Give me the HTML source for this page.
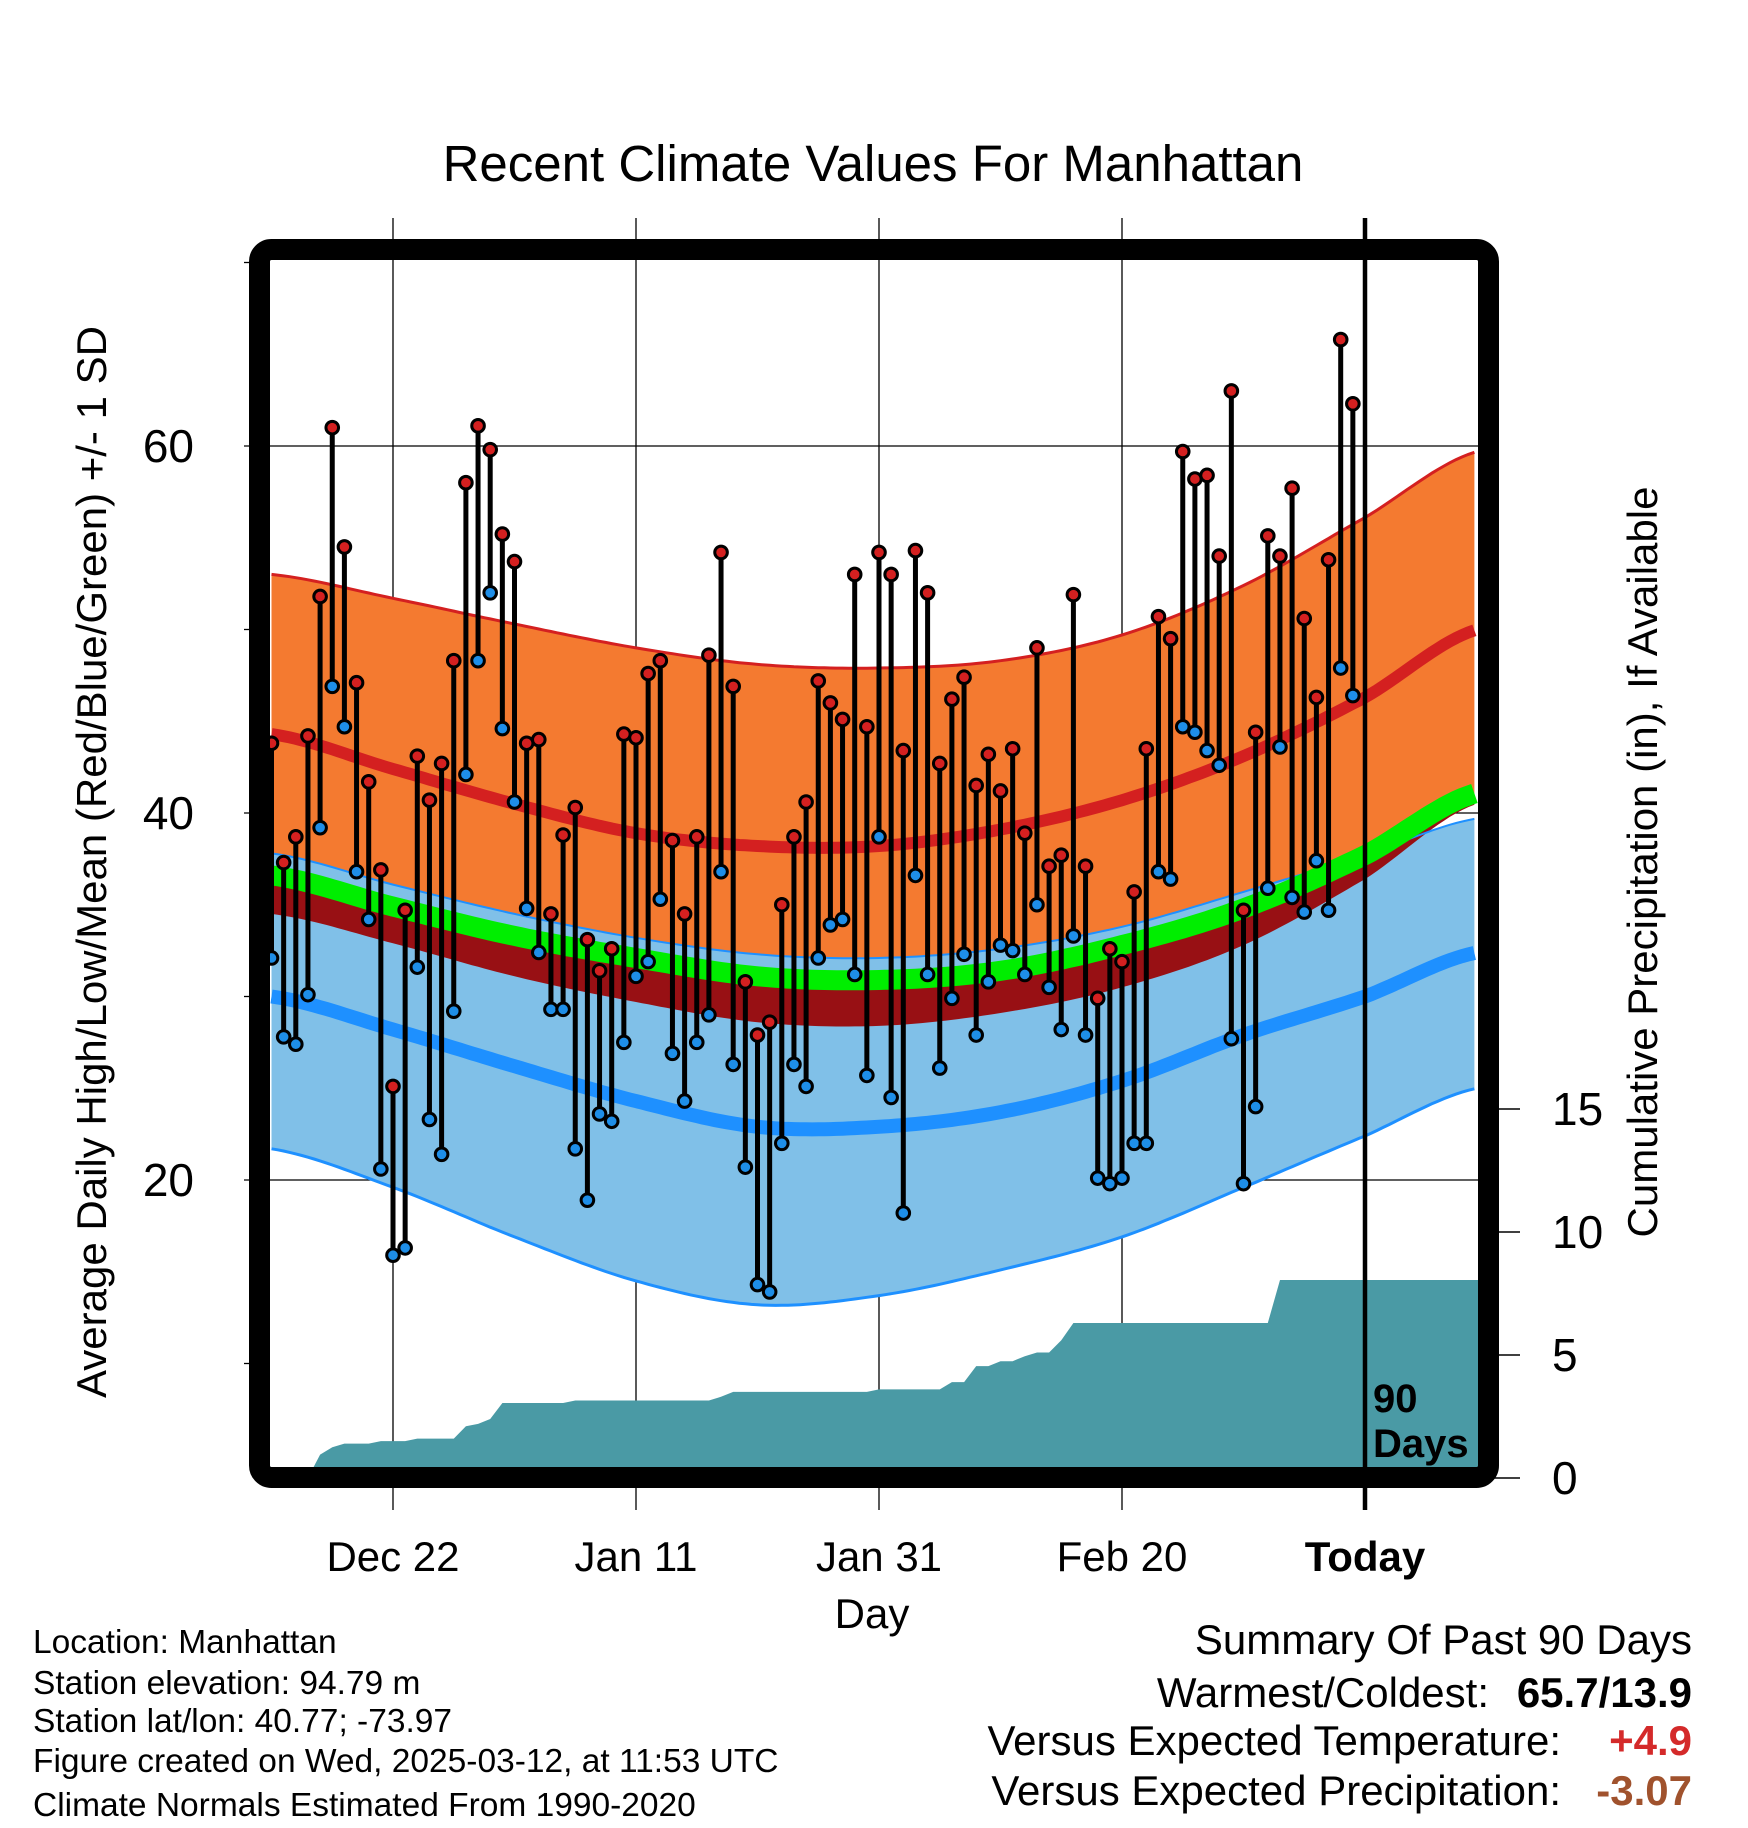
<!DOCTYPE html>
<html><head><meta charset="utf-8">
<style>
html,body{margin:0;padding:0;background:#fff;}
svg{display:block;font-family:"Liberation Sans",sans-serif;}
</style></head>
<body>
<svg id="chart" width="1748" height="1828" viewBox="0 0 1748 1828" xmlns="http://www.w3.org/2000/svg">
<text x="873" y="181" font-size="51" text-anchor="middle">Recent Climate Values For Manhattan</text>
<defs><clipPath id="plotclip"><rect x="270" y="260" width="1208" height="1207"/></clipPath></defs>
<g id="grid"></g>
<g id="bands" clip-path="url(#plotclip)"></g>
<g id="precip" clip-path="url(#plotclip)"></g>
<g id="obs"></g>
<rect x="259.5" y="249.5" width="1229" height="1228" rx="12" fill="none" stroke="#000" stroke-width="21"/>
<g id="axes"></g>
<text x="1373" y="1412" font-size="40" font-weight="bold">90</text>
<text x="1373" y="1457" font-size="40" font-weight="bold">Days</text>
<text transform="translate(106,862) rotate(-90)" font-size="42" text-anchor="middle">Average Daily High/Low/Mean (Red/Blue/Green) +/- 1 SD</text>
<text transform="translate(1657,862) rotate(-90)" font-size="42" text-anchor="middle">Cumulative Precipitation (in), If Available</text>
<text x="872" y="1628" font-size="42" text-anchor="middle">Day</text>
<g font-size="33.5">
<text x="33" y="1653">Location: Manhattan</text>
<text x="33" y="1694">Station elevation: 94.79 m</text>
<text x="33" y="1732">Station lat/lon: 40.77; -73.97</text>
<text x="33" y="1772">Figure created on Wed, 2025-03-12, at 11:53 UTC</text>
<text x="33" y="1816">Climate Normals Estimated From 1990-2020</text>
</g>
<g font-size="42">
<text x="1692" y="1654" text-anchor="end">Summary Of Past 90 Days</text>
<text x="1489" y="1707" text-anchor="end">Warmest/Coldest:</text>
<text x="1692" y="1707" text-anchor="end" font-weight="bold">65.7/13.9</text>
<text x="1561" y="1755" text-anchor="end">Versus Expected Temperature:</text>
<text x="1692" y="1755" text-anchor="end" font-weight="bold" fill="#d42a2a">+4.9</text>
<text x="1561" y="1805" text-anchor="end">Versus Expected Precipitation:</text>
<text x="1692" y="1805" text-anchor="end" font-weight="bold" fill="#a0522d">-3.07</text>
</g>
</svg>
<script>
const highs=[43.8,37.3,38.7,44.2,51.8,61.0,54.5,47.1,41.7,36.9,25.1,34.7,43.1,40.7,42.7,48.3,58.0,61.1,59.8,55.2,53.7,43.8,44.0,34.5,38.8,40.3,33.1,31.4,32.6,44.3,44.1,47.6,48.3,38.5,34.5,38.7,48.6,54.2,46.9,30.8,27.9,28.6,35.0,38.7,40.6,47.2,46.0,45.1,53.0,44.7,54.2,53.0,43.4,54.3,52.0,42.7,46.2,47.4,41.5,43.2,41.2,43.5,38.9,49.0,37.1,37.7,51.9,37.1,29.9,32.6,31.9,35.7,43.5,50.7,49.5,59.7,58.2,58.4,54.0,63.0,34.7,44.4,55.1,54.0,57.7,50.6,46.3,53.8,65.8,62.3];
const lows=[32.1,27.8,27.4,30.1,39.2,46.9,44.7,36.8,34.2,20.6,15.9,16.3,31.6,23.3,21.4,29.2,42.1,48.3,52.0,44.6,40.6,34.8,32.4,29.3,29.3,21.7,18.9,23.6,23.2,27.5,31.1,31.9,35.3,26.9,24.3,27.5,29.0,36.8,26.3,20.7,14.3,13.9,22.0,26.3,25.1,32.1,33.9,34.2,31.2,25.7,38.7,24.5,18.2,36.6,31.2,26.1,29.9,32.3,27.9,30.8,32.8,32.5,31.2,35.0,30.5,28.2,33.3,27.9,20.1,19.8,20.1,22.0,22.0,36.8,36.4,44.7,44.4,43.4,42.6,27.7,19.8,24.0,35.9,43.6,35.4,34.6,37.4,34.7,47.9,46.4];
const precip=[0,0,0,0,0.95,1.25,1.4,1.4,1.4,1.5,1.5,1.5,1.6,1.6,1.6,1.6,2.1,2.2,2.4,3.05,3.05,3.05,3.05,3.05,3.05,3.15,3.15,3.15,3.15,3.15,3.15,3.15,3.15,3.15,3.15,3.15,3.15,3.3,3.5,3.5,3.5,3.5,3.5,3.5,3.5,3.5,3.5,3.5,3.5,3.5,3.6,3.6,3.6,3.6,3.6,3.6,3.9,3.9,4.55,4.55,4.75,4.75,4.95,5.1,5.1,5.6,6.3,6.3,6.3,6.3,6.3,6.3,6.3,6.3,6.3,6.3,6.3,6.3,6.3,6.3,6.3,6.3,6.3,8.05,8.05,8.05,8.05,8.05,8.05,8.05];
const normDays=[-10,0,10,20,30,40,50,60,70,80,89.2];
const hiUpper=[53.0,51.7,50.3,49.0,48.1,47.9,48.3,49.7,52.4,56.1,59.7];
const hiMean=[44.3,42.4,40.5,38.9,38.2,38.2,39.1,40.7,43.1,46.3,50.0];
const loUpper=[37.8,36.1,34.5,33.2,32.3,32.1,32.6,33.8,35.7,37.7,39.7];
const avgMean=[36.6,34.9,33.3,32.1,31.1,30.9,31.4,32.8,34.8,37.7,41.1];
const overlapLow=[34.5,32.9,31.1,29.7,28.6,28.4,29.1,30.5,32.8,36.4,40.5];
const loMean=[30.0,28.2,26.2,24.3,22.9,22.9,23.7,25.4,27.9,30.0,32.4];
const loLower=[21.7,19.6,16.9,14.5,13.2,13.7,15.1,16.9,19.6,22.4,25.0];
const tempTicks=[20,40,60];
const tempMinorTicks=[10,30,50,70];
const precipTicks=[0,5,10,15];
const dateTicks=[{d:0,l:"Dec 22"},{d:20,l:"Jan 11"},{d:40,l:"Jan 31"},{d:60,l:"Feb 20"},{d:80,l:"Today"}];
const firstDay=-10;

const NS="http://www.w3.org/2000/svg";
const X=d=>393+d*12.15;
const Y=v=>1180-(v-20)*18.35;
const P=v=>1478-v*24.6;
function mk(tag,attrs,parent){const e=document.createElementNS(NS,tag);for(const k in attrs)e.setAttribute(k,attrs[k]);parent.appendChild(e);return e;}
function interp(arr,d){
  let i=0;while(i<normDays.length-2&&d>normDays[i+1])i++;
  const t=(d-normDays[i])/(normDays[i+1]-normDays[i]);
  const p0=arr[Math.max(i-1,0)],p1=arr[i],p2=arr[i+1],p3=arr[Math.min(i+2,arr.length-1)];
  const t2=t*t,t3=t2*t;
  return 0.5*((2*p1)+(-p0+p2)*t+(2*p0-5*p1+4*p2-p3)*t2+(-p0+3*p1-3*p2+p3)*t3);
}
function curve(arr){const pts=[];for(let d=normDays[0];d<=normDays[normDays.length-1]+0.01;d+=0.5){pts.push([X(d),Y(interp(arr,d))]);}return pts;}
function line(pts){return pts.map((p,i)=>(i?"L":"M")+p[0].toFixed(1)+","+p[1].toFixed(1)).join("");}
function band(a,b){const A=curve(a),B=curve(b).reverse();return line(A)+line(B).replace("M","L")+"Z";}

const bands=document.getElementById('bands');
let e;
e=mk('path',{d:band(hiUpper,avgMean),fill:'#f47a30'},bands);


e=mk('path',{d:line(curve(hiUpper)),fill:'none',stroke:'#d42020','stroke-width':3},bands);


e=mk('path',{d:band(loUpper,loLower),fill:'#80c0e8'},bands);


e=mk('path',{d:band(avgMean,overlapLow),fill:'#981014'},bands);


e=mk('path',{d:line(curve(loUpper)),fill:'none',stroke:'#1e90ff','stroke-width':2},bands);


e=mk('path',{d:line(curve(loLower)),fill:'none',stroke:'#1e90ff','stroke-width':3},bands);


e=mk('path',{d:line(curve(avgMean)),fill:'none',stroke:'#00ee00','stroke-width':20},bands);


e=mk('path',{d:line(curve(hiMean)),fill:'none',stroke:'#d42020','stroke-width':12},bands);


e=mk('path',{d:line(curve(loMean)),fill:'none',stroke:'#1e90ff','stroke-width':14},bands);



const grid=document.getElementById('grid');
tempTicks.forEach(v=>{
  e=mk('line',{x1:244,x2:1478,y1:Y(v),y2:Y(v),stroke:'#000','stroke-width':1.3},grid);
  
  
});
dateTicks.forEach(t=>{
  if(t.l==="Today")return;
  e=mk('line',{x1:X(t.d),x2:X(t.d),y1:218,y2:1510,stroke:'#000','stroke-width':1.3},grid);
  
  
});

const pr=document.getElementById('precip');
let pts=precip.map((v,i)=>[X(firstDay+i),P(v)]);
pts.push([1480,P(precip[precip.length-1])]);
let d="M"+X(firstDay)+","+P(0)+pts.map(p=>"L"+p[0].toFixed(1)+","+p[1].toFixed(1)).join("")+"L1480,"+P(0)+"Z";
e=mk('path',{d:d,fill:'#4a9aa5'},pr);



const obs=document.getElementById('obs');
highs.forEach((h,i)=>{
  const x=X(firstDay+i);
  e=mk('line',{x1:x,x2:x,y1:Y(h),y2:Y(lows[i]),stroke:'#000','stroke-width':5},obs);
  
  
});
highs.forEach((h,i)=>{
  const x=X(firstDay+i);
  e=mk('circle',{cx:x,cy:Y(lows[i]),r:6.3,fill:'#1e8ee8',stroke:'#000','stroke-width':3},obs);
  
  
  e=mk('circle',{cx:x,cy:Y(h),r:6.3,fill:'#d42020',stroke:'#000','stroke-width':3},obs);
  
  
});
e=mk('line',{x1:X(80),x2:X(80),y1:218,y2:1510,stroke:'#000','stroke-width':4.5},obs);



const ax=document.getElementById('axes');
tempTicks.forEach(v=>{
  e=mk('text',{x:194,y:Y(v)+16,'font-size':46,'text-anchor':'end'},ax);
  e.textContent=v;
  
  
});
tempMinorTicks.forEach(v=>{
  e=mk('line',{x1:244,x2:252,y1:Y(v),y2:Y(v),stroke:'#000','stroke-width':1.3},ax);
  
  
});
precipTicks.forEach(v=>{
  e=mk('line',{x1:1488,x2:1520,y1:P(v),y2:P(v),stroke:'#000','stroke-width':1.5},ax);
  
  
  e=mk('text',{x:1552,y:P(v)+16,'font-size':46},ax);
  e.textContent=v;
  
  
});
dateTicks.forEach(t=>{
  e=mk('text',{x:X(t.d),y:1571,'font-size':42,'text-anchor':'middle'},ax);
  if(t.l==="Today")e.setAttribute('font-weight','bold');
  e.textContent=t.l;
  
  
});
</script>
</body></html>
